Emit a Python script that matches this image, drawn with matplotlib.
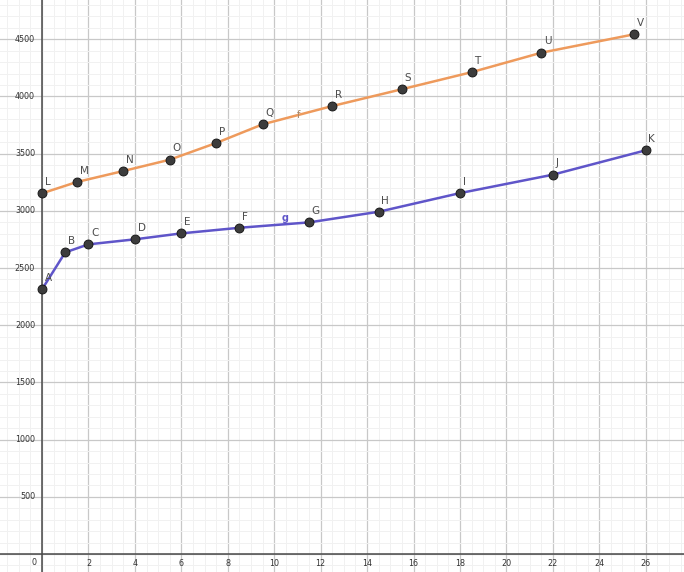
import numpy as np
import matplotlib
matplotlib.use("Agg")
import matplotlib.pyplot as plt
from matplotlib.ticker import MultipleLocator

# lower polyline g (points A..K)
g_names = ["A", "B", "C", "D", "E", "F", "G", "H", "I", "J", "K"]
g_x = [0, 1, 2, 4, 6, 8.5, 11.5, 14.5, 18, 22, 26]
g_y = [2314, 2637, 2707, 2751, 2803, 2852, 2899, 2992, 3155, 3316, 3529]

# upper polyline f (points L..V)
f_names = ["L", "M", "N", "O", "P", "Q", "R", "S", "T", "U", "V"]
f_x = [0, 1.5, 3.5, 5.5, 7.5, 9.5, 12.5, 15.5, 18.5, 21.5, 25.5]
f_y = [3153, 3252, 3348, 3447, 3593, 3756, 3916, 4063, 4212, 4382, 4543]

x_ticks = [-2, 0, 2, 4, 6, 8, 10, 12, 14, 16, 18, 20, 22, 24, 26]
y_ticks = [500, 1000, 1500, 2000, 2500, 3000, 3500, 4000, 4500]

orange = "#EE9A5C"
blue = "#5F55C9"

fig = plt.figure(figsize=(6.84, 5.72), dpi=100)
ax = fig.add_axes([0, 0, 1, 1])
ax.set_xlim(-1.81, 27.65)
ax.set_ylim(-157, 4843)

ax.xaxis.set_major_locator(MultipleLocator(2))
ax.xaxis.set_minor_locator(MultipleLocator(0.5))
ax.yaxis.set_major_locator(MultipleLocator(500))
ax.yaxis.set_minor_locator(MultipleLocator(100))
ax.grid(which="minor", color="#f1f1f1", lw=0.7)
ax.grid(which="major", color="#c8c8c8", lw=0.9)
ax.tick_params(which="both", length=0, labelbottom=False, labelleft=False)
for s in ax.spines.values():
    s.set_visible(False)
ax.set_axisbelow(True)

ax.axhline(0, color="#4a4a4a", lw=1.1, zorder=1)
ax.axvline(0, color="#4a4a4a", lw=1.1, zorder=1)

# axis numbers
for t in x_ticks:
    if t == 0:
        ax.annotate("0", (0, 0), xytext=(-6, -6), textcoords="offset points",
                    ha="center", va="center", fontsize=5.8, color="#333333")
    else:
        ax.annotate(str(t), (t, 0), xytext=(0, -6.5), textcoords="offset points",
                    ha="center", va="center", fontsize=5.8, color="#333333",
                    annotation_clip=False)
for t in y_ticks:
    ax.annotate(str(t), (0, t), xytext=(-5, 0), textcoords="offset points",
                ha="right", va="center", fontsize=5.8, color="#333333")

ax.plot(f_x, f_y, color=orange, lw=1.8, zorder=3)
ax.plot(g_x, g_y, color=blue, lw=1.8, zorder=3)
ax.scatter(f_x + g_x, f_y + g_y, s=42, color="#3c3c3c", edgecolor="#111111",
           linewidth=0.6, zorder=4)

for name, x, y in zip(g_names + f_names, g_x + f_x, g_y + f_y):
    ax.annotate(name, (x, y), xytext=(2, 4.5), textcoords="offset points",
                ha="left", va="bottom", fontsize=7.5, color="#4d4d4d", zorder=5)

# object names on the segments
ax.annotate("f", (11.04, np.interp(11.04, f_x, f_y)), ha="center", va="center",
            fontsize=7, color="#a8876a", zorder=5)
ax.annotate("g", (10.47, np.interp(10.47, g_x, g_y)), xytext=(0, 2.5),
            textcoords="offset points", ha="center", va="baseline",
            fontsize=7, color=blue, fontweight="bold", zorder=5)

fig.savefig("out.png", dpi=100)
